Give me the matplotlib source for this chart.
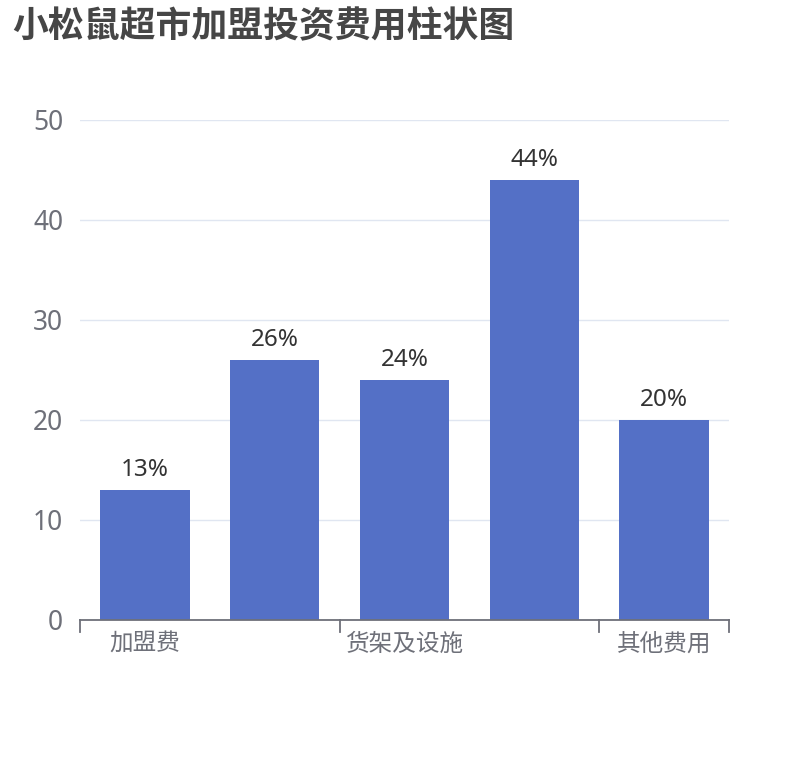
import matplotlib
matplotlib.use("Agg")
import matplotlib.pyplot as plt
import numpy as np

plt.rcParams['font.family'] = ['Noto Sans CJK SC', 'DejaVu Sans']
num_font = ['Noto Sans', 'Noto Sans CJK SC']

# data
categories = ["加盟费", "装修费用", "货架及设施", "首批进货", "其他费用"]
values     = [13, 26, 24, 44, 20]
labels     = ["13%", "26%", "24%", "44%", "20%"]
y_ticks    = [0, 10, 20, 30, 40, 50]
title      = "小松鼠超市加盟投资费用柱状图"

bar_color  = "#5470c6"
axis_color = "#6e7079"
grid_color = "#e0e6f1"

fig = plt.figure(figsize=(8.1, 7.6), dpi=100)
ax = fig.add_axes([80/810, 140/760, 649/810, 500/760])

x = np.arange(len(categories))
bars = ax.bar(x, values, width=0.69, color=bar_color, zorder=3)

for rect, txt in zip(bars, labels):
    ax.annotate(txt, (rect.get_x() + rect.get_width()/2, rect.get_height()),
                xytext=(0, 6), textcoords="offset points",
                ha="center", va="bottom", fontsize=17.5, color="#333333",
                family=num_font)

ax.set_xlim(-0.5, len(categories) - 0.5)
ax.set_ylim(0, 50)
ax.set_yticks(y_ticks)
ax.yaxis.grid(True, color=grid_color, linewidth=1, zorder=0)
ax.tick_params(axis="y", length=0, pad=12, labelsize=19, labelcolor=axis_color)
for t in ax.get_yticklabels():
    t.set_family(num_font)

# x ticks: only every second label is shown, ticks sit on category boundaries
ax.set_xticks(x[::2])
ax.set_xticklabels(categories[::2])
ax.tick_params(axis="x", length=0, pad=9, labelsize=17, labelcolor=axis_color)
for b in list(x[::2] - 0.5) + [len(categories) - 0.5]:
    ax.plot([b, b], [0, -1.2], color=axis_color, lw=1.3, clip_on=False, zorder=4)

for side in ["top", "right", "left"]:
    ax.spines[side].set_visible(False)
ax.spines["bottom"].set_color(axis_color)
ax.spines["bottom"].set_linewidth(1.3)
ax.spines["bottom"].set_zorder(4)

fig.text(12/810, 1 - 8/760, title, ha="left", va="top",
         fontsize=25.8, fontweight="bold", color="#464646")

fig.savefig("out.png", dpi=100)
